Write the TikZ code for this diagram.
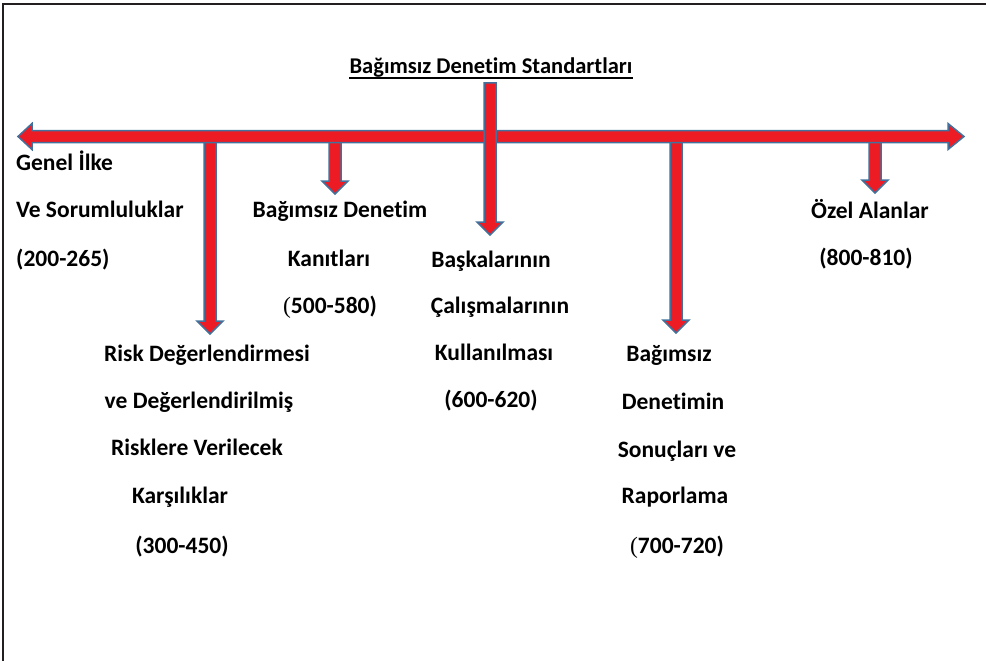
\documentclass[tikz,border=0pt]{standalone}
\usepackage{fontspec}
\setmainfont{Carlito}[Ligatures=CommonOff]
\newfontfamily\parfont{Liberation Serif}
\usetikzlibrary{calc}
\definecolor{ArrowClr}{RGB}{237,28,36}
\definecolor{EdgeClr}{RGB}{65,113,156}
\definecolor{FrameClr}{RGB}{35,31,32}

% Aşağı yönlü blok ok: #1 üst nokta, #2 uç nokta.
\newcommand{\DownArrow}[2]{%
  \draw[BlockArr] ($(#1)+(-6,0)$) -- ($(#2)+(-6,-13)$) -- ($(#2)+(-13,-13)$)
    -- (#2) -- ($(#2)+(13,-13)$) -- ($(#2)+(6,-13)$) -- ($(#1)+(6,0)$) -- cycle;}

\begin{document}
\begin{tikzpicture}[x=1pt,y=-1pt,
  BlockArr/.style={fill=ArrowClr,draw=EdgeClr,line width=1.5pt,line join=miter},
  Lbl/.style={anchor=base,inner sep=0pt,font=\fontsize{23.5}{28}\selectfont\bfseries},
  LblL/.style={Lbl,anchor=base west}]
\useasboundingbox (0,0) rectangle (986,661);

% Çerçeve.
\draw[FrameClr,line width=2pt] (3,661) -- (3,4.5) -- (986,4.5);

% Okların noktaları.
\coordinate (L) at (18,136.5);
\coordinate (R) at (964,136.5);
\coordinate (a1top) at (210,136.5); \coordinate (a1tip) at (210,334);
\coordinate (a2top) at (335,136.5); \coordinate (a2tip) at (335,194);
\coordinate (a3top) at (490,83);    \coordinate (a3tip) at (490,235);
\coordinate (a4top) at (676,136.5); \coordinate (a4tip) at (676,333);
\coordinate (a5top) at (875,136.5); \coordinate (a5tip) at (875,193);

% Alt oklar.
\DownArrow{a1top}{a1tip}
\DownArrow{a2top}{a2tip}
\DownArrow{a4top}{a4tip}
\DownArrow{a5top}{a5tip}

% Yatay çift yönlü ok.
\draw[BlockArr] (L) -- ($(L)+(14,-13)$) -- ($(L)+(14,-6)$) -- ($(R)+(-16,-6)$)
  -- ($(R)+(-16,-13)$) -- (R) -- ($(R)+(-16,13)$) -- ($(R)+(-16,6)$)
  -- ($(L)+(14,6)$) -- ($(L)+(14,13)$) -- cycle;

\DownArrow{a3top}{a3tip}

% Başlık.
\node[Lbl,font=\fontsize{22.5}{27}\selectfont\bfseries] (baslik) at (491,74) {Bağımsız Denetim Standartları};
\draw[line width=1.6pt] ($(baslik.base west)+(0,4)$) -- ($(baslik.base east)+(0,4)$);

% Metinler.
\node[LblL] (genel1) at (16,170) {Genel İlke};
\node[LblL] (genel2) at (16,217) {Ve Sorumluluklar};
\node[LblL] (genel3) at (16,266) {(200-265)};

\node[Lbl] (kanit1) at (340,217) {Bağımsız Denetim};
\node[Lbl] (kanit2) at (329,266) {Kanıtları};
\node[Lbl] (kanit3) at (330,313) {{\parfont\mdseries(}500-580)};

\node[Lbl] (risk1) at (207,361) {Risk Değerlendirmesi};
\node[Lbl] (risk2) at (199,408) {ve Değerlendirilmiş};
\node[Lbl] (risk3) at (197,455) {Risklere Verilecek};
\node[Lbl] (risk4) at (180,503) {Karşılıklar};
\node[Lbl] (risk5) at (182,553) {(300-450)};

\node[Lbl] (baska1) at (491,267) {Başkalarının};
\node[Lbl] (baska2) at (500,313) {Çalışmalarının};
\node[Lbl] (baska3) at (494,360) {Kullanılması};
\node[Lbl] (baska4) at (491,407) {(600-620)};

\node[Lbl] (sonuc1) at (669,361) {Bağımsız};
\node[Lbl] (sonuc2) at (673,409) {Denetimin};
\node[Lbl] (sonuc3) at (677,457) {Sonuçları ve};
\node[Lbl] (sonuc4) at (675,503) {Raporlama};
\node[Lbl] (sonuc5) at (677,553) {{\parfont\mdseries(}700-720)};

\node[Lbl] (ozel1) at (870,218) {Özel Alanlar};
\node[Lbl] (ozel2) at (866,265) {(800-810)};

\end{tikzpicture}
\end{document}
